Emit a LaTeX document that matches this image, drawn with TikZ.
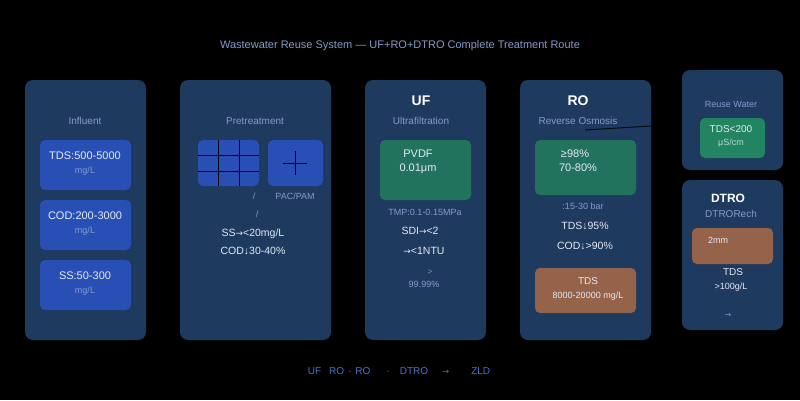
\documentclass[tikz,border=0pt]{standalone}
\usepackage{fontspec}
\setmainfont{Liberation Sans}
\newfontfamily\arrowfont[Scale=0.85]{DejaVu Sans}
\newcommand{\rarr}{{\arrowfont →}}
\definecolor{panelblue}{RGB}{31,58,95}
\definecolor{cardblue}{RGB}{40,80,180}
\definecolor{cardgreen}{RGB}{34,115,94}
\definecolor{cardmint}{RGB}{34,132,96}
\definecolor{cardbrown}{RGB}{148,99,74}
\definecolor{softblue}{RGB}{134,154,204}
\definecolor{paletext}{RGB}{228,234,245}
\definecolor{routeblue}{RGB}{72,112,204}
\begin{document}
\begin{tikzpicture}[x=1pt, y=-1pt,
    every node/.style = {inner sep=0pt},
    panel/.style = {fill=panelblue, rounded corners=8pt},
    card/.style = {rounded corners=5pt},
    lbl/.style = {text=softblue, font=\fontsize{10}{12}\selectfont},
    small/.style = {text=softblue, font=\fontsize{9}{11}\selectfont},
    val/.style = {text=paletext, font=\fontsize{11}{13}\selectfont},
    head/.style = {text=white, font=\bfseries\fontsize{14}{16}\selectfont}]
  \fill[black] (0,0) rectangle (800,400);
  \useasboundingbox (0,0) rectangle (800,400);
  \node[lbl, font=\fontsize{11}{13}\selectfont] (title) at (400,46) {Wastewater Reuse System — UF+RO+DTRO Complete Treatment Route};
  % panels
  \fill[panel] (25,80) rectangle (146,340); % influent
  \fill[panel] (180,80) rectangle (331,340); % pretreatment
  \fill[panel] (365,80) rectangle (486,340); % uf
  \fill[panel] (520,80) rectangle (651,340); % ro
  \fill[panel] (682,70) rectangle (783,170); % reuse water
  \fill[panel] (682,180) rectangle (783,330); % dtro
  % influent
  \node[lbl] (influent) at (85,121) {Influent};
  \fill[card, cardblue] (40,140) rectangle (131,190);
  \fill[card, cardblue] (40,200) rectangle (131,250);
  \fill[card, cardblue] (40,260) rectangle (131,310);
  \node[val] (tdsin) at (85,156) {TDS:500-5000};
  \node[small] (tdsunit) at (85,171) {mg/L};
  \node[val] (codin) at (85,216) {COD:200-3000};
  \node[small] (codunit) at (85,231) {mg/L};
  \node[val] (ssin) at (85,276) {SS:50-300};
  \node[small] (ssunit) at (85,291) {mg/L};
  % pretreatment
  \node[lbl] (pretreat) at (255,121) {Pretreatment};
  \fill[card, cardblue] (198,140) rectangle (259,186); % grid card
  \draw[black] (218,140) -- (218,186) (239,140) -- (239,186)
    (198,155) -- (259,155) (198,171) -- (259,171);
  \fill[card, cardblue] (268,140) rectangle (323,186); % dosing card
  \draw[black] (283,163) -- (307,163) (295,151) -- (295,175);
  \node[small] (slash1) at (254,196) {/};
  \node[small] (pacpam) at (295,196) {PAC/PAM};
  \node[small] (slash2) at (257,214) {/};
  \node[val, font=\fontsize{10.5}{12}\selectfont] (ssout) at (253,234) {SS\rarr<20mg/L};
  \node[val, font=\fontsize{10.5}{12}\selectfont] (codpre) at (253,251) {COD↓30-40\%};
  % uf
  \node[head] (uf) at (421,101) {UF};
  \node[lbl] (ufname) at (421,121) {Ultrafiltration};
  \fill[card, cardgreen] (380,140) rectangle (471,200);
  \node[val] (pvdf) at (418,154) {PVDF};
  \node[val] (pore) at (418,169) {0.01μm};
  \node[small] (tmp) at (425,212) {TMP:0.1-0.15MPa};
  \node[val, font=\fontsize{10.5}{12}\selectfont] (sdi) at (420,231) {SDI\rarr<2};
  \node[val, font=\fontsize{10.5}{12}\selectfont] (ntu) at (424,251) {\rarr<1NTU};
  \node[small, font=\fontsize{8}{10}\selectfont] (gt) at (430,272) {>};
  \node[small] (removal) at (424,284) {99.99\%};
  % ro
  \node[head] (ro) at (578,101) {RO};
  \node[lbl] (roname) at (578,121) {Reverse Osmosis};
  \coordinate (rotick) at (585,130);
  \coordinate (roedge) at (651,126);
  \draw[black!80!panelblue, line width=1pt] (rotick) -- (roedge);
  \fill[card, cardgreen] (535,140) rectangle (636,195);
  \node[val] (rejection) at (575,154) {≥98\%};
  \node[val] (recovery) at (578,168) {70-80\%};
  \node[small] (pressure) at (583,206) {:15-30 bar};
  \node[val, font=\fontsize{10.5}{12}\selectfont] (tdsro) at (585,226) {TDS↓95\%};
  \node[val, font=\fontsize{10.5}{12}\selectfont] (codro) at (585,246) {COD↓>90\%};
  \fill[card, cardbrown] (535,268) rectangle (636,313);
  \node[val, font=\fontsize{10}{12}\selectfont] (brinetds) at (588,281) {TDS};
  \node[val, font=\fontsize{9}{11}\selectfont] (brine) at (588,296) {8000-20000 mg/L};
  % reuse water
  \node[small] (reuse) at (731,104) {Reuse Water};
  \fill[card, cardmint] (700,118) rectangle (765,158);
  \node[val, font=\fontsize{10}{12}\selectfont] (tdsreuse) at (731,129) {TDS<200};
  \node[val, font=\fontsize{9}{11}\selectfont, text=paletext!80!cardmint] (cond) at (731,143) {μS/cm};
  % dtro
  \node[head, font=\bfseries\fontsize{12}{14}\selectfont] (dtro) at (728,198) {DTRO};
  \node[lbl] (dtroname) at (731,214) {DTRORech};
  \fill[card, cardbrown] (692,228) rectangle (773,264);
  \node[val, font=\fontsize{9}{11}\selectfont] (gap) at (718,240) {2mm};
  \node[val, font=\fontsize{10}{12}\selectfont] (dtrotds) at (733,272) {TDS};
  \node[val, font=\fontsize{9}{11}\selectfont] (dtroconc) at (731,287) {>100g/L};
  \node[small] (dtroarrow) at (728,315) {\rarr};
  % route
  \node[text=routeblue, font=\fontsize{10}{12}\selectfont] (route) at (399,371)
    {UF\hspace{8pt}RO\hspace{4pt}·\hspace{4pt}RO\hspace{16pt}·\hspace{10pt}DTRO\hspace{14pt}\rarr\hspace{22pt}ZLD};
\end{tikzpicture}
\end{document}
